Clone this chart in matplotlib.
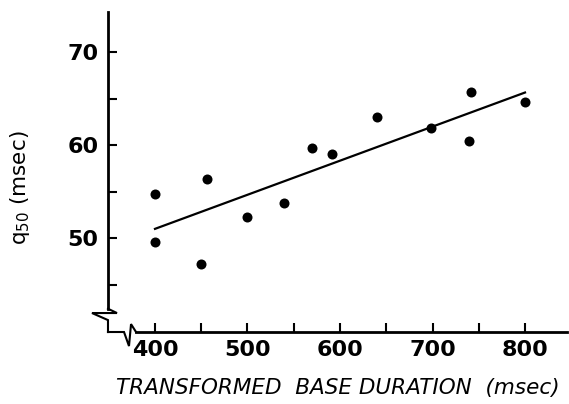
import numpy as np
import matplotlib.pyplot as plt

# transformed base duration (msec) vs q50 (msec)
base_dur = [400, 400, 450, 456, 500, 540, 570, 591, 640, 698, 739, 742, 800]
q50 = [54.7, 49.6, 47.2, 56.3, 52.3, 53.8, 59.7, 59.0, 63.0, 61.8, 60.4, 65.7, 64.6]

x_ticks = [400, 500, 600, 700, 800]
y_ticks = [50, 60, 70]

plt.rcParams['font.family'] = 'DejaVu Sans'
plt.rcParams['mathtext.default'] = 'regular'

fig = plt.figure(figsize=(5.69, 4.04), dpi=100)
ax = fig.add_axes([0.1898, 0.1782, 0.8067, 0.792])

ax.scatter(base_dur, q50, s=52, color='black', zorder=3, linewidths=0)

# least squares line
slope, icpt = np.polyfit(base_dur, q50, 1)
xl = np.array([400, 800])
ax.plot(xl, icpt + slope * xl, color='black', lw=1.6)

ax.set_xlim(349.2, 845.4)
ax.set_ylim(39.9, 74.3)

ax.spines['top'].set_visible(False)
ax.spines['right'].set_visible(False)
ax.spines['left'].set_linewidth(2)
ax.spines['bottom'].set_linewidth(2)
ax.spines['left'].set_bounds(42.4, 74.3)
ax.spines['bottom'].set_bounds(379.5, 845.4)

ax.set_xticks(x_ticks)
ax.set_xticks(np.arange(450, 850, 100), minor=True)
ax.set_yticks(y_ticks)
ax.set_yticks([45, 55, 65], minor=True)
ax.tick_params(which='both', direction='in', length=6.5, width=1.5)
ax.tick_params(axis='y', labelsize=16, pad=7)
ax.tick_params(axis='x', labelsize=16, pad=6)
for lab in ax.get_xticklabels() + ax.get_yticklabels():
    lab.set_fontweight('bold')

# axis break marks
ax.plot([349.2, 358.9, 331.9, 349.2, 349.2], [42.4, 41.94, 41.94, 41.18, 39.9],
        color='black', lw=1.5, clip_on=False, solid_joinstyle='miter')
ax.plot([349.2, 366.5, 371.9, 374.1, 379.5], [39.9, 39.9, 38.39, 40.75, 39.9],
        color='black', lw=1.5, clip_on=False, solid_joinstyle='miter')

ax.set_xlabel('TRANSFORMED  BASE DURATION  (msec)', fontsize=15.5, style='italic')
ax.xaxis.set_label_coords(0.5, -0.145)
ax.set_ylabel('q$_{50}$ (msec)', fontsize=15.5)
ax.yaxis.set_label_coords(-0.166, 0.45)

fig.savefig('out.png', dpi=100)
